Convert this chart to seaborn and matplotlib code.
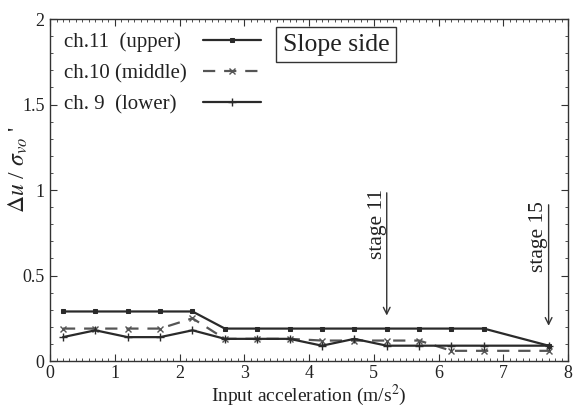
import matplotlib
matplotlib.use("Agg")
import matplotlib.pyplot as plt
import seaborn as sns
from matplotlib.ticker import MultipleLocator

accel = [0.2, 0.7, 1.2, 1.7, 2.2, 2.7, 3.2, 3.7, 4.2, 4.7, 5.2, 5.7, 6.2, 6.7, 7.7]
ch11_upper = [0.29, 0.29, 0.29, 0.29, 0.29, 0.19, 0.19, 0.19, 0.19, 0.19, 0.19, 0.19, 0.19, 0.19, 0.09]
ch10_middle = [0.19, 0.19, 0.19, 0.19, 0.25, 0.13, 0.13, 0.13, 0.12, 0.12, 0.12, 0.12, 0.06, 0.06, 0.06]
ch9_lower = [0.14, 0.18, 0.14, 0.14, 0.18, 0.13, 0.13, 0.13, 0.09, 0.13, 0.09, 0.09, 0.09, 0.09, 0.09]
labels = ["ch.11  (upper) ", "ch.10 (middle)", "ch. 9  (lower)  "]
stage_x = [5.2, 7.7]
stage_labels = ["stage 11", "stage 15"]
arrow_top = [1.0, 0.93]
arrow_tip = [0.25, 0.19]

sns.set_theme(style="ticks")
plt.rcParams["font.family"] = ["Liberation Serif", "DejaVu Serif"]
plt.rcParams["mathtext.fontset"] = "stix"

fig = plt.figure(figsize=(5.75, 4.08), dpi=100)
ax = fig.add_axes([0.087, 0.115, 0.9009, 0.8384])

dark = "#2a2a2a"
gray = "#555555"
sns.lineplot(x=accel, y=ch11_upper, ax=ax, color=dark, lw=1.6, marker="s", ms=3.5,
             mec=dark, mfc=dark, label=labels[0])
sns.lineplot(x=accel, y=ch10_middle, ax=ax, color=gray, lw=1.6, marker="x", ms=5,
             mew=1.0, mec=gray, label=labels[1])
sns.lineplot(x=accel, y=ch9_lower, ax=ax, color=dark, lw=1.6, marker="+", ms=6,
             mew=1.0, mec=dark, label=labels[2])
ax.lines[1].set_linestyle((0, (5.5, 4)))

ax.set_xlim(0, 8)
ax.set_ylim(0, 2)
ax.xaxis.set_major_locator(MultipleLocator(1))
ax.xaxis.set_minor_locator(MultipleLocator(0.1))
ax.yaxis.set_minor_locator(MultipleLocator(0.1))
ax.set_yticks([0, 0.5, 1, 1.5, 2])
ax.set_yticklabels(["0", "0.5", "1", "1.5", "2"])
ax.tick_params(which="both", direction="in", top=True, right=True, colors="#333333",
               labelcolor="#222222", labelsize=13)
ax.tick_params(which="major", length=5, width=0.8, pad=4)
ax.tick_params(axis="x", which="major", pad=3)
ax.tick_params(which="minor", length=2.5, width=0.6)
for s in ax.spines.values():
    s.set_color("#333333")
    s.set_linewidth(1.0)

ax.set_xlabel(r"Input acceleration (m/s$^2$)", fontsize=14, color="#222222")
ax.xaxis.label.set_va("bottom")
ax.xaxis.set_label_coords(0.5, -0.137)
ax.set_ylabel(r"$\mathit{\Delta u}$ / $\mathit{\sigma}_{vo}$ '", fontsize=17, color="#222222")
ax.yaxis.set_label_coords(-0.038, 0.56)

leg = ax.legend(loc="upper left", frameon=False, markerfirst=False, fontsize=15,
                handlelength=2.75, labelspacing=0.55, borderaxespad=0.25, borderpad=0.4,
                handletextpad=0.8)
for t in leg.get_texts():
    t.set_color("#222222")

ax.text(0.552, 0.925, "Slope side", transform=ax.transAxes, fontsize=18.5, color="#222222",
        va="center", ha="center",
        bbox=dict(boxstyle="square,pad=0.25", fc="white", ec="#333333", lw=1.0))

for xs, lab, y0, y1 in zip(stage_x, stage_labels, arrow_top, arrow_tip):
    ax.annotate("", xy=(xs, y1), xytext=(xs, y0),
                arrowprops=dict(arrowstyle="->", color="#333333", lw=1.0))
    ax.text(xs - 0.15, y0 + 0.005, lab, rotation=90, ha="center", va="top", fontsize=15.5,
            color="#222222")

fig.savefig("out.png", dpi=100)
